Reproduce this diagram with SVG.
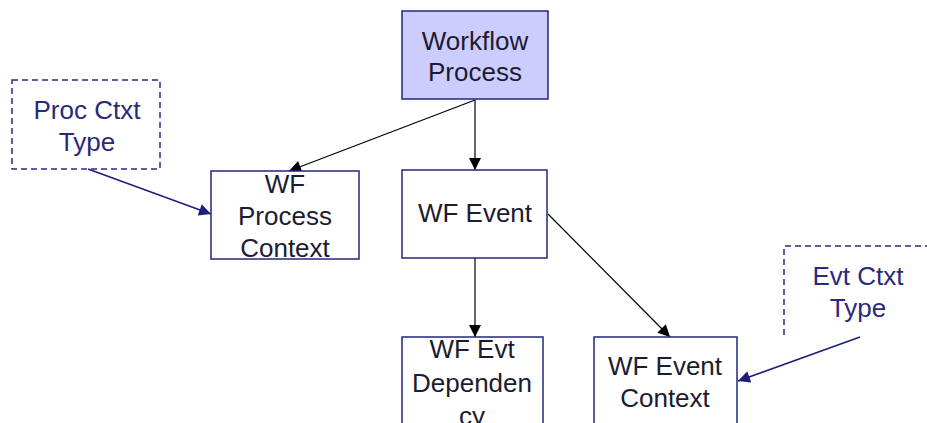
<svg xmlns="http://www.w3.org/2000/svg" width="927" height="423" viewBox="0 0 927 423">
<defs>
<style>
.box{fill:#fff;stroke:#24247f;stroke-width:1.5}
.main{fill:#ccccff}
.dash{fill:none;stroke:#2a2a85;stroke-width:1.5;stroke-dasharray:6 4}
text{font-family:"Liberation Sans",Arial,sans-serif;font-size:26px;text-anchor:middle;fill:#1c1c30}
.nt{fill:#2a2a7a}
.c{fill:none;stroke:#000;stroke-width:1.2}
.cn{fill:none;stroke:#1e1e7a;stroke-width:1.5}
</style>
<marker id="ab" viewBox="0 0 10 10" refX="10" refY="5" markerWidth="13" markerHeight="12" markerUnits="userSpaceOnUse" orient="auto"><path d="M0,0 L10,5 L0,10 Z" fill="#000"/></marker>
<marker id="an" viewBox="0 0 10 10" refX="10" refY="5" markerWidth="13" markerHeight="12" markerUnits="userSpaceOnUse" orient="auto"><path d="M0,0 L10,5 L0,10 Z" fill="#1e1e7a"/></marker>
</defs>
<rect width="927" height="423" fill="#fff"/>
<g id="connectors">
<line class="c" x1="475" y1="100" x2="475" y2="170" marker-end="url(#ab)"/>
<line class="c" x1="475" y1="100" x2="289" y2="171" marker-end="url(#ab)"/>
<line class="c" x1="548" y1="214" x2="670" y2="337" marker-end="url(#ab)"/>
<line class="c" x1="475" y1="258" x2="475" y2="337" marker-end="url(#ab)"/>
<line class="cn" x1="88" y1="169" x2="211" y2="214" marker-end="url(#an)"/>
<line class="cn" x1="860" y1="337" x2="738" y2="381" marker-end="url(#an)"/>
</g>
<g id="workflow-process">
<rect class="box main" x="402" y="11" width="146" height="88"/>
<text x="475" y="50">Workflow</text>
<text x="475" y="81">Process</text>
</g>
<g id="proc-ctxt-type">
<rect class="dash" x="12" y="80" width="148" height="89"/>
<text class="nt" x="87" y="119">Proc Ctxt</text>
<text class="nt" x="87" y="151">Type</text>
</g>
<g id="wf-process-context">
<rect class="box" x="211" y="171" width="148" height="88"/>
<text x="285" y="193">WF</text>
<text x="285" y="225">Process</text>
<text x="285" y="257">Context</text>
</g>
<g id="wf-event">
<rect class="box" x="402" y="170" width="145" height="88"/>
<text x="475" y="222">WF Event</text>
</g>
<g id="wf-evt-dependency">
<rect class="box" x="402" y="337" width="141" height="100"/>
<text x="472" y="358">WF Evt</text>
<text x="472" y="392">Dependen</text>
<text x="472" y="425">cy</text>
</g>
<g id="wf-event-context">
<rect class="box" x="594" y="337" width="143" height="100"/>
<text x="665" y="375">WF Event</text>
<text x="665" y="407">Context</text>
</g>
<g id="evt-ctxt-type">
<path class="dash" d="M784,335 L784,246 L932,246"/>
<text class="nt" x="858" y="285">Evt Ctxt</text>
<text class="nt" x="858" y="317">Type</text>
</g>
</svg>
